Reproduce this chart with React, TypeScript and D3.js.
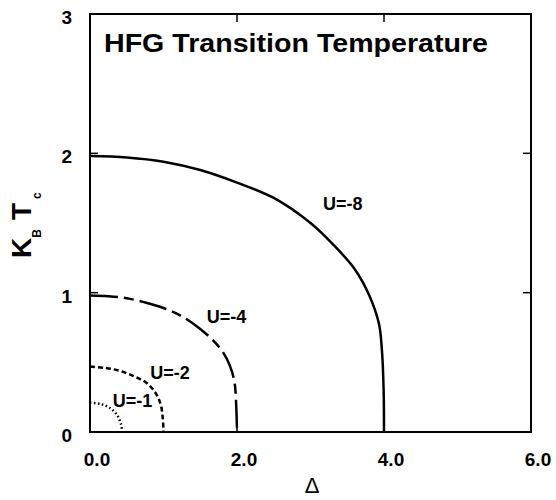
import * as d3 from "d3";

// series: Delta (x) and kB*Tc (y)
const u8Delta = [0, 0.5, 1.0, 1.5, 2.0, 2.5, 3.0, 3.3, 3.6, 3.8, 3.93, 3.97, 3.995, 4.0];
const u8Tc = [1.98, 1.97, 1.94, 1.88, 1.79, 1.68, 1.5, 1.35, 1.17, 0.98, 0.78, 0.6, 0.3, 0];

const u4Delta = [0, 0.25, 0.5, 0.75, 1.0, 1.25, 1.5, 1.65, 1.8, 1.9, 1.965, 1.99, 2.0];
const u4Tc = [0.98, 0.975, 0.96, 0.93, 0.89, 0.83, 0.74, 0.67, 0.58, 0.48, 0.36, 0.18, 0];

const u2Delta = [0, 0.2, 0.4, 0.6, 0.75, 0.88, 0.96, 0.99, 1.0];
const u2Tc = [0.47, 0.46, 0.44, 0.4, 0.36, 0.29, 0.2, 0.1, 0];

const u1Delta = [0, 0.15, 0.28, 0.37, 0.42, 0.44];
const u1Tc = [0.21, 0.2, 0.17, 0.12, 0.06, 0];

const xTicks = [0, 2, 4, 6];
const yTicks = [0, 1, 2, 3];

const series = [
  { name: "U=-8", xs: u8Delta, ys: u8Tc, dash: "none", lx: 3.17, ly: 1.59 },
  { name: "U=-4", xs: u4Delta, ys: u4Tc, dash: "28,6,10,6", lx: 1.59, ly: 0.78 },
  { name: "U=-2", xs: u2Delta, ys: u2Tc, dash: "5,3", lx: 0.82, ly: 0.38 },
  { name: "U=-1", xs: u1Delta, ys: u1Tc, dash: "1.5,2.5", lx: 0.31, ly: 0.18 },
];

const W = 556;
const H = 500;
const left = 90;
const right = 531;
const top = 14;
const bottom = 432;
const font = "'Liberation Sans', Arial, Helvetica, sans-serif";

export default function App() {
  const x = d3.scaleLinear().domain([0, 6]).range([left, right]);
  const y = d3.scaleLinear().domain([0, 3]).range([bottom, top]);

  const line = d3
    .line<[number, number]>()
    .x((d) => x(d[0]))
    .y((d) => y(d[1]))
    .curve(d3.curveCatmullRom.alpha(0.5));

  const tickLen = 8;

  return (
    <div style={{ position: "absolute", left: 0, top: 0 }}>
      <svg width={W} height={H} style={{ display: "block", background: "#fff" }}>
        {/* frame */}
        <rect
          x={left}
          y={top}
          width={right - left}
          height={bottom - top}
          fill="none"
          stroke="#000"
          strokeWidth={2}
        />

        {/* inner ticks on all sides */}
        {xTicks.slice(1, -1).map((t) => (
          <g key={"xt" + t} stroke="#000" strokeWidth={1.5}>
            <line x1={x(t)} x2={x(t)} y1={bottom} y2={bottom - tickLen} />
            <line x1={x(t)} x2={x(t)} y1={top} y2={top + tickLen} />
          </g>
        ))}
        {yTicks.slice(1, -1).map((t) => (
          <g key={"yt" + t} stroke="#000" strokeWidth={1.5}>
            <line x1={left} x2={left + tickLen} y1={y(t)} y2={y(t)} />
            <line x1={right} x2={right - tickLen} y1={y(t)} y2={y(t)} />
          </g>
        ))}

        {/* tick labels */}
        {xTicks.map((t) => (
          <text
            key={"xl" + t}
            x={x(t) + 7}
            y={466}
            textAnchor="middle"
            fontFamily={font}
            fontWeight="bold"
            fontSize={19}
          >
            {t.toFixed(1)}
          </text>
        ))}
        {yTicks.map((t) => (
          <text
            key={"yl" + t}
            x={72}
            y={y(t) + 10}
            textAnchor="end"
            fontFamily={font}
            fontWeight="bold"
            fontSize={19}
          >
            {t}
          </text>
        ))}

        {/* curves */}
        {series.map((s) => (
          <path
            key={s.name}
            d={line(s.xs.map((v, i) => [v, s.ys[i]] as [number, number])) || ""}
            fill="none"
            stroke="#000"
            strokeWidth={2.5}
            strokeDasharray={s.dash}
          />
        ))}

        {/* curve labels */}
        {series.map((s) => (
          <text
            key={"lab" + s.name}
            x={x(s.lx)}
            y={y(s.ly)}
            fontFamily={font}
            fontWeight="bold"
            fontSize={18}
          >
            {s.name}
          </text>
        ))}

        {/* title */}
        <text
          x={104}
          y={52}
          fontFamily={font}
          fontWeight="bold"
          fontSize={25}
          textLength={384}
          lengthAdjust="spacingAndGlyphs"
        >
          HFG Transition Temperature
        </text>

        {/* x axis label */}
        <text x={312} y={493} textAnchor="middle" fontFamily={font} fontSize={22}>
          Δ
        </text>

        {/* y axis label */}
        <text
          transform="translate(31,258) rotate(-90)"
          fontFamily={font}
          fontWeight="bold"
          fontSize={28}
        >
          K
          <tspan fontSize={12} dy={10}>B</tspan>
          <tspan dx={9} dy={-10}>T</tspan>
          <tspan fontSize={12} dx={4} dy={10}>c</tspan>
        </text>
      </svg>
    </div>
  );
}
